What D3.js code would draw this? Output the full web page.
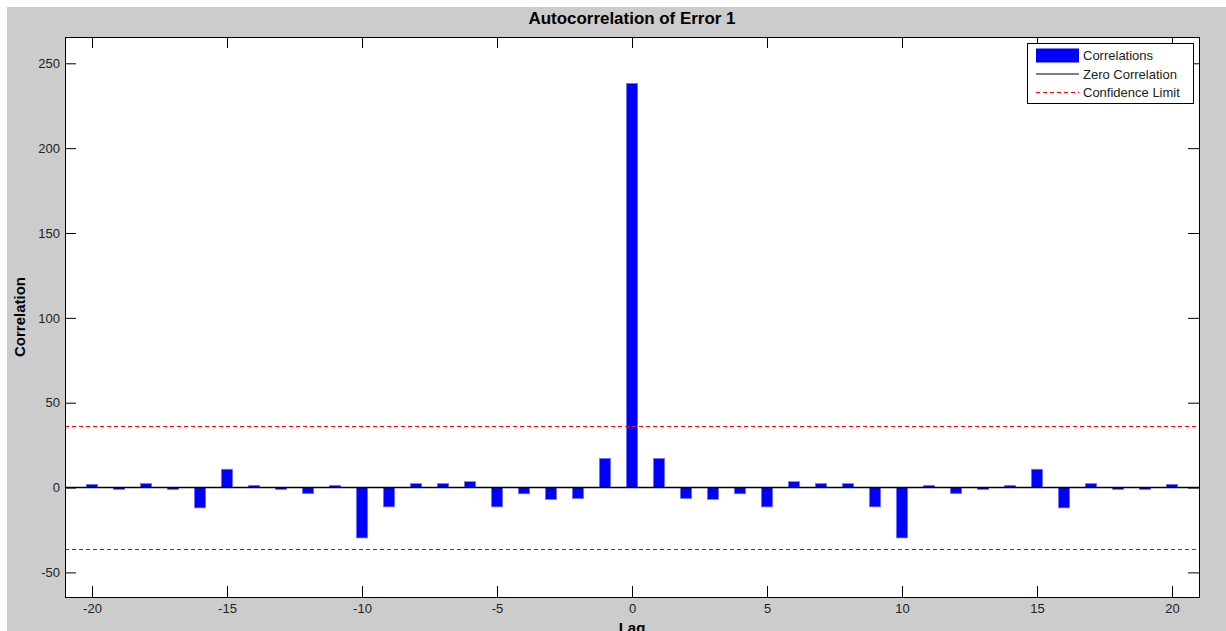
<!DOCTYPE html>
<html>
<head>
<meta charset="utf-8">
<script src="https://cdn.jsdelivr.net/npm/d3@7"></script>
<style>
  html, body { margin: 0; padding: 0; background: #ffffff; }
  svg { display: block; }
  text { font-family: "Liberation Sans", Arial, sans-serif; }
</style>
</head>
<body>
<svg id="chart" width="1226" height="631"></svg>
<script>
// Sample autocorrelation of the error signal, lags -20..20
const lags = d3.range(-20, 21);
const correlations = [
  1.9, -1.2, 2.4, -1.2, -12.0, 10.8, 1.3, -1.2, -3.6, 1.3,
  -29.7, -11.4, 2.4, 2.4, 3.5, -11.4, -3.7, -7.0, -6.5, 17.2,
  238.2,
  17.2, -6.5, -7.0, -3.7, -11.4, 3.5, 2.4, 2.4, -11.4, -29.7,
  1.3, -3.6, -1.2, 1.3, 10.8, -12.0, 2.4, -1.2, -1.2, 1.9
];
const confidenceLimit = 36.1;
const xTicks = [-20, -15, -10, -5, 0, 5, 10, 15, 20];
const yTicks = [-50, 0, 50, 100, 150, 200, 250];
const xDomain = [-21, 21];
const yDomain = [-64.5, 265.5];
const legendLabels = ["Correlations", "Zero Correlation", "Confidence Limit"];

const svg = d3.select("#chart");
const W = 1226, H = 631;
const plot = { left: 65, right: 1199, top: 37, bottom: 597 };

// figure background
svg.append("rect").attr("x", 7).attr("y", 7).attr("width", W - 7).attr("height", H - 7)
  .attr("fill", "#cccccc");

const x = d3.scaleLinear().domain(xDomain).range([plot.left, plot.right]);
const y = d3.scaleLinear().domain(yDomain).range([plot.bottom, plot.top]);

// axes background
svg.append("rect")
  .attr("x", plot.left).attr("y", plot.top)
  .attr("width", plot.right - plot.left).attr("height", plot.bottom - plot.top)
  .attr("fill", "#ffffff");

const g = svg.append("g");

// bars
const barW = (x(1) - x(0)) * 0.42;
g.selectAll("rect.bar")
  .data(lags.map((l, i) => ({ lag: l, v: correlations[i] })))
  .join("rect")
  .attr("class", "bar")
  .attr("x", d => x(d.lag) - barW / 2)
  .attr("width", barW)
  .attr("y", d => y(Math.max(0, d.v)))
  .attr("height", d => Math.abs(y(d.v) - y(0)))
  .attr("fill", "#0000ff")
  .attr("stroke", "#8080ff")
  .attr("stroke-width", 0.7);

// zero line
g.append("line")
  .attr("x1", plot.left).attr("x2", plot.right)
  .attr("y1", y(0)).attr("y2", y(0))
  .attr("stroke", "#000").attr("stroke-width", 1.5);

// confidence limits
[confidenceLimit, -confidenceLimit].forEach(c => {
  g.append("line")
    .attr("x1", plot.left).attr("x2", plot.right)
    .attr("y1", Math.round(y(c)) + 0.5).attr("y2", Math.round(y(c)) + 0.5)
    .attr("stroke", "#ff0000").attr("stroke-width", 1)
    .attr("stroke-dasharray", "4,3");
});

// axes with inward ticks on all four sides (plain hyphen for negatives)
const tickLen = 11;
const fmt = d => String(d);
const axisBottom = d3.axisBottom(x).tickValues(xTicks).tickSize(-tickLen).tickPadding(tickLen + 6).tickFormat(fmt);
const axisTop = d3.axisTop(x).tickValues(xTicks).tickSize(-tickLen).tickFormat("");
const axisLeft = d3.axisLeft(y).tickValues(yTicks).tickSize(-tickLen).tickPadding(tickLen + 6).tickFormat(fmt);
const axisRight = d3.axisRight(y).tickValues(yTicks).tickSize(-tickLen).tickFormat("");

function styleAxis(sel) {
  sel.select(".domain").remove();
  sel.selectAll(".tick line").attr("stroke", "#000").attr("stroke-width", 1);
  sel.selectAll(".tick text").attr("fill", "#222").style("font-size", "13px");
}
svg.append("g").attr("transform", `translate(0,${plot.bottom})`).call(axisBottom).call(styleAxis)
  .selectAll(".tick text").attr("dy", "0.35em").attr("y", 11);
svg.append("g").attr("transform", `translate(0,${plot.top})`).call(axisTop).call(styleAxis);
svg.append("g").attr("transform", `translate(${plot.left},0)`).call(axisLeft).call(styleAxis)
  .selectAll(".tick text").attr("x", -5);
svg.append("g").attr("transform", `translate(${plot.right},0)`).call(axisRight).call(styleAxis);

// axes box
svg.append("rect")
  .attr("x", plot.left + 0.5).attr("y", plot.top + 0.5)
  .attr("width", plot.right - plot.left).attr("height", plot.bottom - plot.top)
  .attr("fill", "none").attr("stroke", "#000").attr("stroke-width", 1);

// title and axis labels
svg.append("text").attr("x", (plot.left + plot.right) / 2).attr("y", 24)
  .attr("text-anchor", "middle").style("font-size", "16px").style("font-weight", "bold")
  .attr("textLength", 207).attr("lengthAdjust", "spacingAndGlyphs")
  .text("Autocorrelation of Error 1");
svg.append("text").attr("x", (plot.left + plot.right) / 2).attr("y", 633)
  .attr("text-anchor", "middle").style("font-size", "15px").style("font-weight", "bold")
  .text("Lag");
svg.append("text")
  .attr("transform", `translate(25,${(plot.top + plot.bottom) / 2}) rotate(-90)`)
  .attr("text-anchor", "middle").style("font-size", "15px").style("font-weight", "bold")
  .text("Correlation");

// legend
const lg = svg.append("g");
lg.append("rect").attr("x", 1027.5).attr("y", 43.5).attr("width", 166).attr("height", 60)
  .attr("fill", "#fff").attr("stroke", "#000").attr("stroke-width", 1);
const rowsY = [55.5, 74, 92.5];
lg.append("rect").attr("x", 1036).attr("y", rowsY[0] - 7).attr("width", 43).attr("height", 14)
  .attr("fill", "#0000ff");
lg.append("line").attr("x1", 1036).attr("x2", 1079).attr("y1", rowsY[1]).attr("y2", rowsY[1])
  .attr("stroke", "#000").attr("stroke-width", 1);
lg.append("line").attr("x1", 1036).attr("x2", 1079).attr("y1", rowsY[2]).attr("y2", rowsY[2])
  .attr("stroke", "#ff0000").attr("stroke-width", 1).attr("stroke-dasharray", "4,3");
lg.selectAll("text.lab").data(legendLabels).join("text")
  .attr("class", "lab")
  .attr("x", 1083).attr("y", (d, i) => rowsY[i]).attr("dy", "0.35em")
  .style("font-size", "13px").attr("fill", "#222")
  .text(d => d);
</script>
</body>
</html>
